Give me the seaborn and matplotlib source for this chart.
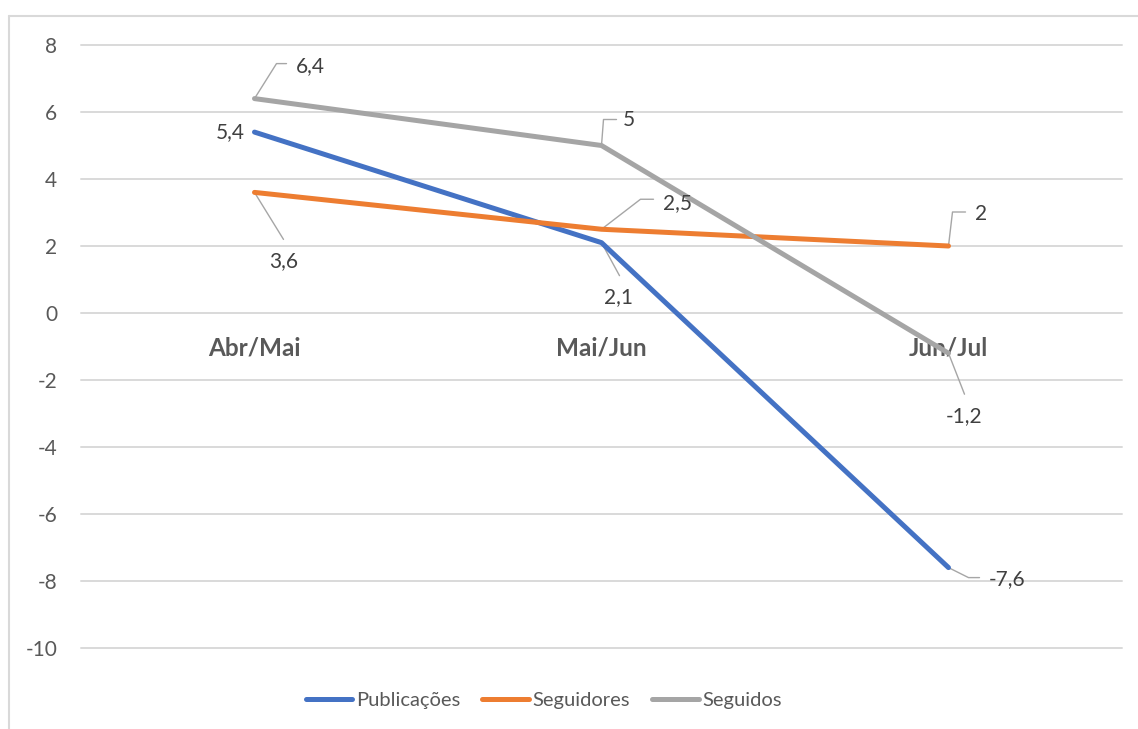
import matplotlib
matplotlib.use("Agg")
import matplotlib.pyplot as plt
import matplotlib.transforms as mtransforms
from matplotlib.lines import Line2D
import numpy as np
import pandas as pd
import seaborn as sns

# ---- data ----
categories = ["Abr/Mai", "Mai/Jun", "Jun/Jul"]
publicacoes = [5.4, 2.1, -7.6]
seguidores = [3.6, 2.5, 2.0]
seguidos = [6.4, 5.0, -1.2]
series_names = ["Publicações", "Seguidores", "Seguidos"]
y_ticks = [-10, -8, -6, -4, -2, 0, 2, 4, 6, 8]

# ---- style ----
colors = {"Publicações": "#4472C4", "Seguidores": "#ED7D31", "Seguidos": "#A5A5A5"}
tick_color = "#595959"
label_color = "#404040"
grid_color = "#D9D9D9"
leader_color = "#A6A6A6"

sns.set_style("white")
plt.rcParams["font.family"] = ["Lato", "DejaVu Sans"]

DPI = 100
W, H = 1138, 729

values = {"Publicações": publicacoes, "Seguidores": seguidores, "Seguidos": seguidos}
df = pd.DataFrame(
    [
        {"pos": i, "periodo": cat, "serie": name, "valor": values[name][i]}
        for name in series_names
        for i, cat in enumerate(categories)
    ]
)

fig = plt.figure(figsize=(W / DPI, H / DPI), dpi=DPI)
ax = fig.add_axes([81 / W, (H - 648) / H, (1122 - 81) / W, (648 - 45) / H])

sns.lineplot(
    data=df, x="pos", y="valor", hue="serie", hue_order=series_names,
    palette=colors, estimator=None, legend=False, ax=ax,
    linewidth=3.6, solid_capstyle="round", solid_joinstyle="round",
)

ax.set_xlim(-0.5, len(categories) - 0.5)
ax.set_ylim(min(y_ticks), max(y_ticks))
ax.set_yticks(y_ticks)
ax.set_yticklabels([str(t) for t in y_ticks])
ax.set_xlabel("")
ax.set_ylabel("")

ax.yaxis.grid(True, color=grid_color, linewidth=1.4)
ax.xaxis.grid(False)
for gl in ax.get_ygridlines():
    gl.set_clip_on(False)
ax.set_axisbelow(True)
for s in ax.spines.values():
    s.set_visible(False)

ax.tick_params(axis="y", length=0, pad=17, labelsize=15, labelcolor=tick_color)

# category labels sit just under the zero line
ax.spines["bottom"].set_position(("data", 0))
ax.set_xticks(range(len(categories)))
ax.set_xticklabels(categories, fontweight="bold")
ax.tick_params(axis="x", length=0, pad=17, labelsize=17.5, labelcolor=tick_color)

# ---- data labels with leader lines (offsets in pixels, y downwards) ----
label_layout = {
    ("Seguidos", 0): ([(0, 0), (22, -35), (32, -35)], (41, -33), "left"),
    ("Publicações", 0): (None, (-10, 0), "right"),
    ("Seguidores", 0): ([(0, 0), (29, 47)], (29, 69), "center"),
    ("Seguidos", 1): ([(0, 0), (2, -26), (15, -26)], (21, -25), "left"),
    ("Seguidores", 1): ([(0, 0), (39, -30), (52, -30)], (61, -26), "left"),
    ("Publicações", 1): ([(0, 0), (18, 33)], (17, 54), "center"),
    ("Seguidores", 2): ([(0, 0), (4, -34), (17, -34)], (26, -32), "left"),
    ("Seguidos", 2): ([(0, 0), (16, 41)], (16, 63), "center"),
    ("Publicações", 2): ([(0, 0), (20, 10), (31, 10)], (40, 11), "left"),
}


def fmt(v):
    return f"{v:g}".replace(".", ",")


for name in series_names:
    for i in range(len(categories)):
        v = values[name][i]
        path, (tx, ty), ha = label_layout[(name, i)]
        if path:
            trans = fig.dpi_scale_trans + mtransforms.ScaledTranslation(i, v, ax.transData)
            xs = [p[0] / DPI for p in path]
            ys = [-p[1] / DPI for p in path]
            ln = Line2D(xs, ys, transform=trans, color=leader_color, linewidth=1.0,
                        clip_on=False, zorder=1.5)
            ax.add_artist(ln)
        ax.annotate(fmt(v), xy=(i, v), xytext=(tx, -ty), textcoords="offset pixels",
                    ha=ha, va="center", fontsize=15, color=label_color)

# ---- legend ----
handles = [Line2D([0], [0], color=colors[n], linewidth=3.6, solid_capstyle="round")
           for n in series_names]
fig.legend(handles, series_names, loc="center", bbox_to_anchor=(544 / W, 1 - 700 / H),
           ncol=3, frameon=False, fontsize=14.5, labelcolor=tick_color,
           handlelength=2.3, handletextpad=0.2, columnspacing=1.1)

# ---- chart border ----
bx, by = 9 / W, 1 - 16 / H
fig.add_artist(Line2D([bx, bx], [0, by], transform=fig.transFigure, color=grid_color, linewidth=1.5))
fig.add_artist(Line2D([bx, 1], [by, by], transform=fig.transFigure, color=grid_color, linewidth=1.5))

fig.savefig("out.png", dpi=DPI)
